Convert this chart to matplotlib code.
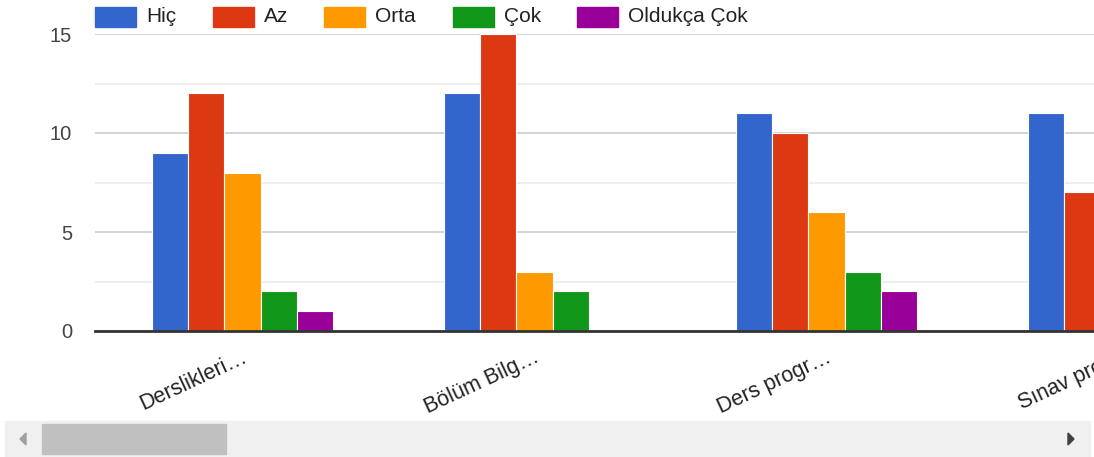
import numpy as np
import matplotlib
matplotlib.use("Agg")
import matplotlib.pyplot as plt
import matplotlib.transforms as mtransforms
from matplotlib.patches import Rectangle, Polygon

plt.rcParams["font.family"] = ["Liberation Sans", "DejaVu Sans"]

categories = ["Derslikleri…", "Bölüm Bilg…", "Ders progr…", "Sınav pro…"]
series_names = ["Hiç", "Az", "Orta", "Çok", "Oldukça Çok"]
colors = ["#3366cc", "#dc3912", "#ff9900", "#109618", "#990099"]
# rows = series, columns = categories (last group is cut off by the scroll view)
hic = [9, 12, 11, 11]
az = [12, 15, 10, 7]
orta = [8, 3, 6, np.nan]
cok = [2, 2, 3, np.nan]
oldukca_cok = [1, 0, 2, np.nan]
values = [hic, az, orta, cok, oldukca_cok]

W, H = 1094, 457
fig = plt.figure(figsize=(W / 100, H / 100), dpi=100)
ax = fig.add_axes([95 / W, 1 - 331 / H, 1 - 95 / W, (331 - 34) / H])

x = np.arange(len(categories))
bw = 0.124
for i, (name, vals) in enumerate(zip(series_names, values)):
    ax.bar(x + (i - 2) * bw, vals, width=bw, color=colors[i],
           edgecolor="white", linewidth=0.8, zorder=3)

ax.set_ylim(0, 15)
ax.set_yticks([0, 5, 10, 15])
ax.set_yticks([2.5, 7.5, 12.5], minor=True)
ax.grid(axis="y", which="major", color="#cccccc", linewidth=1.2, zorder=0)
ax.grid(axis="y", which="minor", color="#ebebeb", linewidth=1.2, zorder=0)
for s in ["top", "right", "left"]:
    ax.spines[s].set_visible(False)
ax.spines["bottom"].set_color("#333333")
ax.spines["bottom"].set_linewidth(2)
ax.spines["bottom"].set_zorder(4)
ax.tick_params(axis="y", which="both", length=0, labelsize=14.5,
               labelcolor="#444444", pad=16.5)
ax.set_xticks([])
ax.set_xlim(-0.505, 2.916)

# category labels, drawn by hand so the last one gets cut at the figure edge
shift = mtransforms.ScaledTranslation(-1 / 100, -16 / 100, fig.dpi_scale_trans)
trans = mtransforms.blended_transform_factory(ax.transData, ax.transAxes) + shift
for xi, cat in zip(x, categories):
    ax.text(xi, 0, cat, transform=trans, rotation=25, ha="right", va="top",
            rotation_mode="anchor", fontsize=15.5, color="#222222", clip_on=False)

# legend drawn along the top edge
legend_x = [95, 213, 324, 453, 577]
for lx, name, c in zip(legend_x, series_names, colors):
    fig.patches.append(Rectangle((lx / W, 1 - 27 / H), 41 / W, 20 / H,
                                 transform=fig.transFigure, color=c))
    fig.text((lx + 51) / W, 1 - 17 / H, name, fontsize=15, color="#222222",
             va="center", ha="left")

# scrollbar strip
fig.patches.append(Rectangle((5 / W, 0), (1090 - 5) / W, 36 / H,
                             transform=fig.transFigure, color="#f0f0f0"))
fig.patches.append(Rectangle((42 / W, 3 / H), (226 - 42) / W, 30 / H,
                             transform=fig.transFigure, color="#c0c0c0"))
fig.patches.append(Polygon([(20 / W, 18 / H), (26 / W, 12 / H), (26 / W, 24 / H)],
                           closed=True, transform=fig.transFigure, color="#a0a0a0"))
fig.patches.append(Polygon([(1074 / W, 18 / H), (1068 / W, 12 / H), (1068 / W, 24 / H)],
                           closed=True, transform=fig.transFigure, color="#404040"))

fig.savefig("out.png", dpi=100)
